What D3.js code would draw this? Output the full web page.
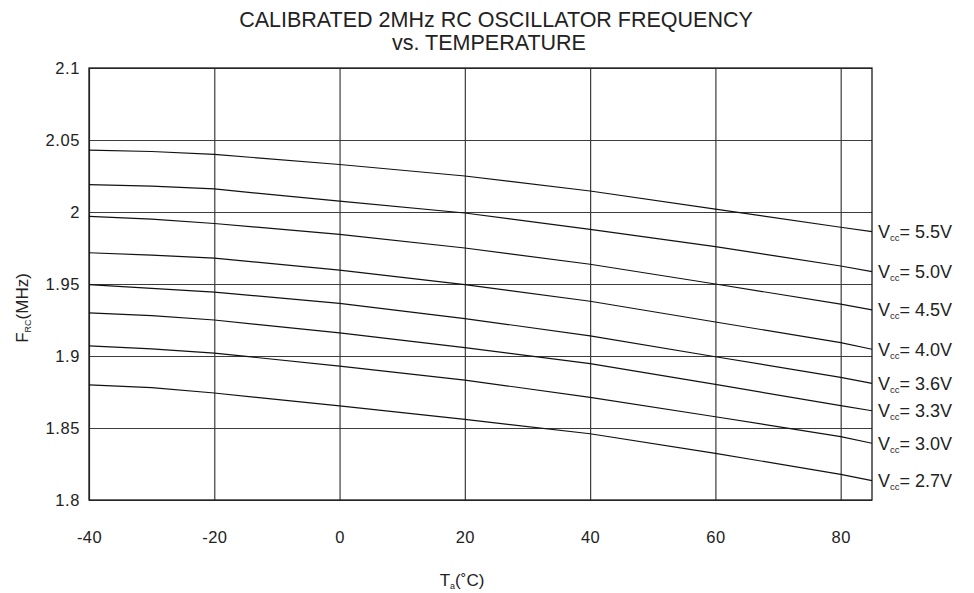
<!DOCTYPE html>
<html>
<head>
<meta charset="utf-8">
<script src="https://cdn.jsdelivr.net/npm/d3@7"></script>
<style>
  body { margin: 0; background: #fff; }
  svg { font-family: "Liberation Sans", Arial, sans-serif; }
</style>
</head>
<body>
<div id="chart"></div>
<script>
// temperatures (deg C) the curves were read at
var temps = [-40, -30, -20, 0, 20, 40, 60, 80, 85];

// one array per supply voltage, frequency in MHz
var v55 = [2.043, 2.042, 2.040, 2.033, 2.025, 2.0146, 2.002, 1.9894, 1.9864];
var v50 = [2.019, 2.018, 2.016, 2.0075, 1.9993, 1.988, 1.976, 1.9625, 1.9586];
var v45 = [1.997, 1.995, 1.992, 1.9845, 1.975, 1.9637, 1.950, 1.936, 1.932];
var v40 = [1.9717, 1.970, 1.968, 1.9597, 1.9495, 1.938, 1.9236, 1.9093, 1.9047];
var v36 = [1.9495, 1.947, 1.9444, 1.9366, 1.926, 1.914, 1.8995, 1.8852, 1.881];
var v33 = [1.930, 1.928, 1.925, 1.916, 1.9058, 1.8947, 1.8803, 1.8655, 1.862];
var v30 = [1.907, 1.905, 1.902, 1.893, 1.8833, 1.8713, 1.8578, 1.844, 1.8394];
var v27 = [1.880, 1.878, 1.8743, 1.8654, 1.856, 1.846, 1.8324, 1.8178, 1.8134];

var seriesNames = ["5.5V", "5.0V", "4.5V", "4.0V", "3.6V", "3.3V", "3.0V", "2.7V"];
var seriesValues = [v55, v50, v45, v40, v36, v33, v30, v27];

var xTicks = [-40, -20, 0, 20, 40, 60, 80];
var yTicks = [1.8, 1.85, 1.9, 1.95, 2, 2.05, 2.1];

var width = 974, height = 593;
var plotLeft = 89, plotRight = 872, plotTop = 68, plotBottom = 500;

var svg = d3.select("#chart").append("svg")
    .attr("width", width)
    .attr("height", height);

var x = d3.scaleLinear().domain([-40, 85]).range([plotLeft, plotRight]);
var y = d3.scaleLinear().domain([1.8, 2.1]).range([plotBottom, plotTop]);

// grid
var gridColor = "#3c3c3c";
svg.append("g")
    .attr("transform", "translate(0," + plotBottom + ")")
    .call(d3.axisBottom(x).tickValues(xTicks).tickSize(-(plotBottom - plotTop)).tickFormat(""))
    .call(g => g.select(".domain").remove())
    .selectAll("line").attr("stroke", gridColor).attr("stroke-width", 1.2);

svg.append("g")
    .attr("transform", "translate(" + plotLeft + ",0)")
    .call(d3.axisLeft(y).tickValues(yTicks).tickSize(-(plotRight - plotLeft)).tickFormat(""))
    .call(g => g.select(".domain").remove())
    .selectAll("line").attr("stroke", gridColor).attr("stroke-width", 1.2);

// tick labels
var xAxis = svg.append("g")
    .attr("transform", "translate(0," + plotBottom + ")")
    .call(d3.axisBottom(x).tickValues(xTicks).tickSize(0).tickFormat(d => String(d)));
xAxis.select(".domain").remove();
xAxis.selectAll("text")
    .attr("y", 43).attr("dy", null)
    .attr("font-size", 16.5).attr("fill", "#222")
    .attr("letter-spacing", 0.4)
    .attr("font-family", "Liberation Sans, Arial, sans-serif");

var yAxis = svg.append("g")
    .attr("transform", "translate(" + plotLeft + ",0)")
    .call(d3.axisLeft(y).tickValues(yTicks).tickSize(0).tickPadding(9).tickFormat(d => String(+d.toFixed(2))));
yAxis.select(".domain").remove();
yAxis.selectAll("text")
    .attr("font-size", 16.5).attr("fill", "#222")
    .attr("letter-spacing", 0.6)
    .attr("font-family", "Liberation Sans, Arial, sans-serif");

// frame
svg.append("rect")
    .attr("x", plotLeft).attr("y", plotTop)
    .attr("width", plotRight - plotLeft).attr("height", plotBottom - plotTop)
    .attr("fill", "none").attr("stroke", "#1a1a1a").attr("stroke-width", 1.3);

// curves
var line = d3.line()
    .x((d, i) => x(temps[i]))
    .y(d => y(d));

svg.append("g").selectAll("path")
    .data(seriesValues)
    .join("path")
    .attr("d", line)
    .attr("fill", "none")
    .attr("stroke", "#111")
    .attr("stroke-width", 1.2);

// curve labels at the right end
var lab = svg.append("g").selectAll("text")
    .data(seriesNames)
    .join("text")
    .attr("x", plotRight + 6)
    .attr("y", (d, i) => y(seriesValues[i][seriesValues[i].length - 1]))
    .attr("dy", "0.36em")
    .attr("font-size", 18)
    .attr("fill", "#222");
lab.append("tspan").text("V");
lab.append("tspan").attr("font-size", 9.5).attr("dy", 3).text("cc");
lab.append("tspan").attr("dy", -3).text(d => "= " + d);

// title
svg.append("text")
    .attr("x", 496).attr("y", 27)
    .attr("text-anchor", "middle")
    .attr("font-size", 21.5).attr("fill", "#222")
    .text("CALIBRATED 2MHz RC OSCILLATOR FREQUENCY");
svg.append("text")
    .attr("x", 489).attr("y", 50)
    .attr("text-anchor", "middle")
    .attr("font-size", 21.5).attr("fill", "#222")
    .text("vs. TEMPERATURE");

// axis titles
var xt = svg.append("text")
    .attr("x", 462).attr("y", 586)
    .attr("text-anchor", "middle")
    .attr("font-size", 17).attr("fill", "#222");
xt.append("tspan").text("T");
xt.append("tspan").attr("font-size", 9).attr("dy", 3).text("a");
xt.append("tspan").attr("dy", -3).text("(\u02DAC)");

var yt = svg.append("text")
    .attr("transform", "translate(28,308) rotate(-90)")
    .attr("text-anchor", "middle")
    .attr("font-size", 17).attr("fill", "#222");
yt.append("tspan").text("F");
yt.append("tspan").attr("font-size", 9).attr("dy", 3).text("RC");
yt.append("tspan").attr("dy", -3).text("(MHz)");
</script>
</body>
</html>
